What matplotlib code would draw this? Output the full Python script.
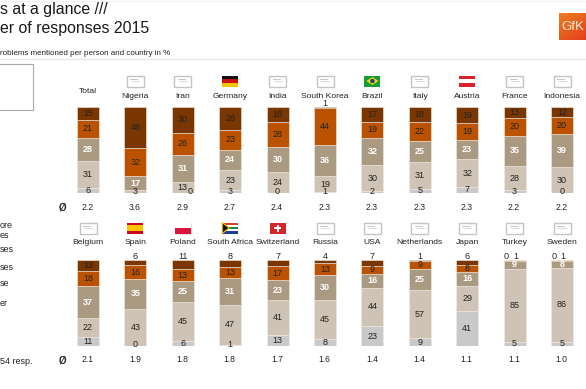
import matplotlib
matplotlib.use("Agg")
import matplotlib.pyplot as plt
import matplotlib.patches as patches
import numpy as np

plt.rcParams['font.family'] = ['Liberation Sans', 'DejaVu Sans']

W, H = 586, 389

# Data, one row of bars per list
top_names = ["Total", "Nigeria", "Iran", "Germany", "India", "South Korea", "Brazil", "Italy", "Austria", "France", "Indonesia"]
top_avg = ["2.2", "3.6", "2.9", "2.7", "2.4", "2.3", "2.3", "2.3", "2.3", "2.2", "2.2"]
top_dark = [15, 48, 30, 26, 18, 1, 17, 18, 19, 13, 12]
top_orange = [21, 32, 26, 23, 28, 44, 19, 22, 19, 20, 20]
top_taupe = [28, 17, 31, 24, 30, 36, 32, 25, 23, 35, 39]
top_light = [31, 3, 13, 23, 24, 19, 30, 31, 32, 28, 30]
top_grey = [6, 0, 0, 3, 0, 1, 2, 5, 7, 3, 0]

bot_names = ["Belgium", "Spain", "Poland", "South Africa", "Switzerland", "Russia", "USA", "Netherlands", "Japan", "Turkey", "Sweden"]
bot_avg = ["2.1", "1.9", "1.8", "1.8", "1.7", "1.6", "1.4", "1.4", "1.1", "1.1", "1.0"]
bot_dark = [13, 6, 11, 8, 7, 4, 7, 1, 6, 0, 0]
bot_orange = [18, 16, 13, 13, 17, 13, 9, 9, 8, 1, 1]
bot_taupe = [37, 35, 25, 31, 23, 30, 16, 25, 16, 9, 8]
bot_light = [22, 43, 45, 47, 41, 45, 44, 57, 29, 85, 86]
bot_grey = [11, 0, 6, 1, 13, 8, 23, 9, 41, 5, 5]

seg_colors = ["#c9c9c9", "#cfc3b5", "#ab9a82", "#bb5200", "#7a3600"]
txt_dark = "#222222"

first_x, step_x, bar_w = 88.0, 47.4, 22.0

fig = plt.figure(figsize=(W / 100, H / 100), dpi=100)

# overlay in pixel coordinates for texts and flags
ov = fig.add_axes([0, 0, 1, 1], zorder=3)
ov.set_xlim(0, W)
ov.set_ylim(H, 0)
ov.axis("off")
ov.patch.set_alpha(0)


def rect(x, y, w, h, fc, ec="none", lw=0, z=1):
    ov.add_patch(patches.Rectangle((x, y), w, h, facecolor=fc, edgecolor=ec, linewidth=lw, zorder=z))


def flag_blank(cx, cy):
    rect(cx - 8.5, cy - 5.5, 17, 11, "white", "#c4c4c4", 1.0)
    ov.plot([cx - 5, cx + 2], [cy - 2.5, cy - 2.5], color="#bbbbbb", lw=0.6)
    ov.plot([cx - 4, cx + 4], [cy - 0.5, cy - 0.5], color="#cccccc", lw=0.5)


def flag_stripes(cx, cy, colors):
    n = len(colors)
    for i, c in enumerate(colors):
        rect(cx - 8, cy - 5.5 + i * 11 / n, 16, 11 / n, c)


def flag(name, cx, cy):
    if name == "Germany":
        flag_stripes(cx, cy, ["#111111", "#cc1111", "#f5c400"])
    elif name == "Austria":
        flag_stripes(cx, cy, ["#d8232a", "#ffffff", "#d8232a"])
    elif name == "Poland":
        rect(cx - 8, cy - 5.5, 16, 11, "none", "#dddddd", 0.6)
        flag_stripes(cx, cy, ["#ffffff", "#dc143c"])
    elif name == "Spain":
        flag_stripes(cx, cy, ["#c60b1e", "#ffc400", "#ffc400", "#c60b1e"])
    elif name == "Brazil":
        rect(cx - 8, cy - 5.5, 16, 11, "#169b3c")
        ov.add_patch(patches.Polygon([(cx - 6, cy), (cx, cy - 4), (cx + 6, cy), (cx, cy + 4)], facecolor="#f5d800", zorder=2))
        ov.add_patch(patches.Circle((cx, cy), 2.2, facecolor="#1c3f94", zorder=3))
    elif name == "Switzerland":
        rect(cx - 8, cy - 5.5, 16, 11, "#d8232a")
        rect(cx - 3.5, cy - 1, 7, 2, "white", z=2)
        rect(cx - 1, cy - 3.5, 2, 7, "white", z=2)
    elif name == "South Africa":
        flag_stripes(cx, cy, ["#d8402a", "#ffffff", "#1f8a4c", "#ffffff", "#1c3f94"])
        ov.add_patch(patches.Polygon([(cx - 8, cy - 5.5), (cx - 1, cy), (cx - 8, cy + 5.5)], facecolor="#111111", edgecolor="#f5c400", linewidth=0.8, zorder=2))
    elif name != "Total":
        flag_blank(cx, cy)


def draw_row(names, avgs, series, y_top, y_bot, y_flag, y_name, y_avg):
    # bars go in their own axes, x is the country index and y the share in %
    ax = fig.add_axes([0, 1 - y_bot / H, 1, (y_bot - y_top) / H], zorder=2)
    ax.set_xlim(-first_x / step_x, (W - first_x) / step_x)
    ax.set_ylim(0, 100)
    ax.axis("off")
    ax.patch.set_alpha(0)

    vals = np.array(series, dtype=float)
    totals = vals.sum(axis=0)
    shares = vals / totals * 100
    xs = np.arange(len(names))
    bottom = np.zeros(len(names))
    centers = []
    for share, col in zip(shares, seg_colors):
        ax.bar(xs, share, bottom=bottom, width=bar_w / step_x, color=col, edgecolor="#f2ebe4", linewidth=0.4)
        centers.append(bottom + share / 2)
        bottom = bottom + share

    px = (y_bot - y_top) / 100.0
    for i, name in enumerate(names):
        cx = first_x + i * step_x
        flag(name, cx, y_flag)
        ny = y_name - 5 if name == "Total" else y_name
        ov.text(cx, ny, name, ha="center", va="center", fontsize=6.1, color=txt_dark)
        ov.text(cx - 0.5, y_avg, avgs[i], ha="center", va="center", fontsize=6.2, color=txt_dark)

        for s in range(5):
            v = int(vals[s][i])
            y = y_bot - centers[s][i] * px
            dx = 0
            if s == 0:  # grey, sits on the bottom edge
                if v == 0 and vals[1][i] < 5:
                    continue
                y = min(y, y_bot - 1.5)
                if v == 0 and vals[1][i] < 20:
                    dx = 7
            if s == 1:
                y = min(y, y_bot - 1.5)
            if s == 3 and v < 3:
                y = y_top - 3.5
                dx = 1
            if s == 4 and v < 12:
                y = y_top - 3.5
                if v == 0:
                    dx = -8
            col = "white" if s == 2 else txt_dark
            weight = "bold" if s == 2 else "normal"
            ov.text(cx + dx, y, str(v), ha="center", va="center", fontsize=6.5, color=col, fontweight=weight, zorder=5)

    ov.text(62, y_avg, "Ø", ha="center", va="center", fontsize=7, fontweight="bold", color="#222222")


draw_row(top_names, top_avg, [top_grey, top_light, top_taupe, top_orange, top_dark], 107, 193, 81, 96, 207)
draw_row(bot_names, bot_avg, [bot_grey, bot_light, bot_taupe, bot_orange, bot_dark], 260, 346, 228, 242, 360)

# title block, cut off on the left like the source
ov.text(0, 9, "s at a glance ///", ha="left", va="center", fontsize=11.4, color="#1a1a1a")
ov.text(0, 28, "er of responses 2015", ha="left", va="center", fontsize=11.4, color="#1a1a1a")
ov.text(0, 53, "roblems mentioned per person and country in %", ha="left", va="center", fontsize=5.8, color="#222222")
ov.plot([0, W], [58.5, 58.5], color="#e6e6e6", lw=0.8)
ov.plot([0, W], [0.5, 0.5], color="#eeeeee", lw=0.8)

# legend box, its text is gone apart from the ends
rect(-2, 63.5, 35, 46, "white", "#a8a8a8", 0.8)
ov.text(0, 225, "ore", ha="left", va="center", fontsize=6.5, color=txt_dark)
ov.text(0, 235, "es", ha="left", va="center", fontsize=6.5, color=txt_dark)
ov.text(0, 249, "ses", ha="left", va="center", fontsize=6.5, color=txt_dark)
ov.text(0, 267, "ses", ha="left", va="center", fontsize=6.5, color=txt_dark)
ov.text(0, 283, "se", ha="left", va="center", fontsize=6.5, color=txt_dark)
ov.text(0, 303, "er", ha="left", va="center", fontsize=6.5, color=txt_dark)
ov.text(0, 361, "54 resp.", ha="left", va="center", fontsize=6.5, color=txt_dark)

# GfK logo
grad = np.linspace(0, 1, 27).reshape(-1, 1) * np.ones((27, 27)) * 0.6 + np.linspace(0, 1, 27) * 0.4
ov.imshow(grad, extent=[559, 586, 40, 13], cmap=matplotlib.colors.LinearSegmentedColormap.from_list("gfk", ["#ef7d22", "#e2401a"]), aspect="auto", zorder=2)
ov.set_xlim(0, W)
ov.set_ylim(H, 0)
ov.text(572.5, 27, "GfK", ha="center", va="center", fontsize=9.5, color="#ffe9dc", zorder=3)

fig.savefig("out.png", dpi=100, facecolor="white")
